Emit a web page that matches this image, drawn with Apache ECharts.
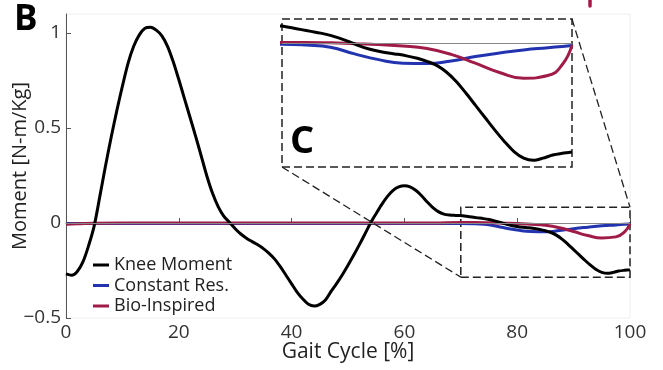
<!DOCTYPE html>
<html>
<head>
<meta charset="utf-8">
<script src="https://cdn.jsdelivr.net/npm/echarts@6/dist/echarts.min.js"></script>
<style>html,body{margin:0;padding:0;background:#fff}#c{width:663px;height:370px}</style>
</head>
<body>
<div id="c"></div>
<script>
// Gait cycle positions [%] for the knee moment (every 1 %)
const gaitKnee = Array.from({length:101}, (_, i) => i);
// Knee Moment [N-m/Kg], read at 0,1,...,100 %
const kneeMoment = [
  -0.268,-0.275,-0.255,-0.205,-0.12,-0.015,0.14,0.30,0.45,0.59,
  0.72,0.84,0.93,0.99,1.025,1.03,1.015,0.985,0.93,0.85,
  0.755,0.655,0.555,0.455,0.35,0.245,0.155,0.085,0.035,0.003,
  -0.03,-0.058,-0.08,-0.098,-0.115,-0.135,-0.16,-0.19,-0.23,-0.275,
  -0.32,-0.365,-0.40,-0.428,-0.437,-0.428,-0.405,-0.36,-0.318,-0.272,
  -0.222,-0.17,-0.115,-0.058,0.0,0.05,0.098,0.14,0.172,0.19,
  0.196,0.19,0.172,0.145,0.112,0.082,0.06,0.047,0.042,0.04,
  0.039,0.035,0.031,0.027,0.023,0.018,0.011,0.003,-0.006,-0.013,
  -0.018,-0.022,-0.025,-0.029,-0.034,-0.041,-0.05,-0.065,-0.086,-0.112,
  -0.14,-0.168,-0.196,-0.222,-0.245,-0.26,-0.265,-0.26,-0.253,-0.249,
  -0.246];
// Gait cycle positions [%] for the two device curves
const gaitDevice = [0,2,5,10,20,30,40,50,60,65,70,72.5,75,77.5,80,82.5,85,87.5,90,92.5,95,97.5,99,100];
// Constant Res.
const constantRes = [-0.002,-0.002,-0.002,-0.002,-0.002,-0.002,-0.002,-0.002,-0.002,-0.002,-0.002,-0.004,-0.009,-0.024,-0.037,-0.045,-0.046,-0.040,-0.030,-0.022,-0.015,-0.010,-0.007,-0.005];
// Bio-Inspired
const bioInspired = [-0.006,-0.004,-0.001,0,0,0,0,0,0,0,0.002,0.002,0.001,-0.001,-0.003,-0.006,-0.012,-0.025,-0.045,-0.066,-0.079,-0.073,-0.048,-0.004];
// Axis ticks
const xTicks = [0,20,40,60,80,100];
const yTicks = [-0.5,0,0.5,1];
// Zoom region (main chart) and inset ranges
const zoomBoxX = [70,100];
const zoomBoxY = [-0.285,0.083];
const insetY = [-0.28,0.055];

const FONT = '"Open Sans", sans-serif';
const C_KNEE = '#000000', C_CONST = '#2233b0', C_BIO = '#a01c48';
const pairs = (xs, arr) => xs.map((g,i)=>[g,arr[i]]);

const chart = echarts.init(document.getElementById('c'));
function mkSeries(name, xs, arr, color, idx, width, smooth, extra){
  return Object.assign({
    name, type:'line', xAxisIndex:idx, yAxisIndex:idx, data:pairs(xs, arr),
    smooth, showSymbol:false, symbol:'none', clip:true,
    lineStyle:{color, width, join:'round'}, itemStyle:{color}, emphasis:{disabled:true}, silent:true
  }, extra||{});
}
const zeroLine = {silent:true, symbol:'none', label:{show:false},
  lineStyle:{color:'#888', width:1, type:'solid'}, data:[{yAxis:0}]};
const boxStyle = {color:'rgba(0,0,0,0)', borderColor:'#222', borderWidth:1.5, borderType:[8,4]};
const option = {
  animation:false,
  grid:[
    {left:66, right:33, top:14, bottom:52, show:true, borderColor:'#eeeeee', borderWidth:1, outerBoundsMode:'none', containLabel:false},
    {left:282, top:19, width:290, height:148, outerBoundsMode:'none', containLabel:false}
  ],
  xAxis:[
    {type:'value', min:0, max:100, interval:20, gridIndex:0,
     name:'Gait Cycle [%]', nameLocation:'middle', nameGap:24, nameMoveOverlap:false,
     nameTextStyle:{fontFamily:FONT, fontSize:21, color:'#222'},
     axisLine:{lineStyle:{color:'#555', width:1}},
     axisTick:{inside:true, length:5, lineStyle:{color:'#555'}},
     axisLabel:{fontFamily:FONT, fontSize:19, color:'#333', margin:5,
       formatter:v=>xTicks.includes(v)?String(v):''},
     splitLine:{show:false}},
    {type:'value', min:zoomBoxX[0], max:zoomBoxX[1], gridIndex:1, show:false}
  ],
  yAxis:[
    {type:'value', min:-0.5, max:1.1, interval:0.5, gridIndex:0,
     name:'Moment [N-m/Kg]', nameLocation:'middle', nameGap:36, nameMoveOverlap:false,
     nameTextStyle:{fontFamily:FONT, fontSize:20, color:'#222'},
     axisLine:{show:true, lineStyle:{color:'#555', width:1}},
     axisTick:{inside:true, length:5, lineStyle:{color:'#555'}},
     axisLabel:{fontFamily:FONT, fontSize:19, color:'#333', margin:5, align:'right', showMaxLabel:false,
       formatter:v=>yTicks.includes(v)?'{r|'+String(v).replace('-','\u2212')+'}':'',
       rich:{r:{width:44, align:'right', fontFamily:FONT, fontSize:19, color:'#333'}}},
     splitLine:{show:false}},
    {type:'value', min:insetY[0], max:insetY[1], gridIndex:1, show:false}
  ],
  legend:{
    orient:'vertical', left:88, top:251, icon:'rect', itemWidth:16, itemHeight:3, itemGap:2.5,
    data:['Knee Moment','Constant Res.','Bio-Inspired'],
    textStyle:{fontFamily:FONT, fontSize:18, color:'#222', lineHeight:18}
  },
  series:[
    mkSeries('Constant Res.', gaitDevice, constantRes, C_CONST, 0, 3, 0.5, {markLine:zeroLine}),
    mkSeries('Bio-Inspired', gaitDevice, bioInspired, C_BIO, 0, 3, 0.5),
    mkSeries('Knee Moment', gaitKnee, kneeMoment, C_KNEE, 0, 3, 0.3, {
      markArea:{silent:true, itemStyle:boxStyle,
        data:[[{xAxis:zoomBoxX[0], yAxis:zoomBoxY[0]},{xAxis:zoomBoxX[1], yAxis:zoomBoxY[1]}]]}
    }),
    mkSeries('Constant Res.', gaitDevice, constantRes, C_CONST, 1, 3, 0.5, {markLine:zeroLine}),
    mkSeries('Bio-Inspired', gaitDevice, bioInspired, C_BIO, 1, 3, 0.5),
    mkSeries('Knee Moment', gaitKnee, kneeMoment, C_KNEE, 1, 3, 0.3, {
      markArea:{silent:true, itemStyle:boxStyle,
        data:[[{xAxis:zoomBoxX[0], yAxis:insetY[0]},{xAxis:zoomBoxX[1], yAxis:insetY[1]}]]}
    })
  ]
};
chart.setOption(option);

const mTR = chart.convertToPixel({gridIndex:0},[zoomBoxX[1], zoomBoxY[1]]);
const mBL = chart.convertToPixel({gridIndex:0},[zoomBoxX[0], zoomBoxY[0]]);
const iTR = chart.convertToPixel({gridIndex:1},[zoomBoxX[1], insetY[1]]);
const iBL = chart.convertToPixel({gridIndex:1},[zoomBoxX[0], insetY[0]]);
const dashStyle = {stroke:'#222', lineWidth:1.3, lineDash:[8,4]};
chart.setOption({graphic:{elements:[
  {type:'line', shape:{x1:iTR[0], y1:iTR[1], x2:mTR[0], y2:mTR[1]}, style:dashStyle, z:50, silent:true},
  {type:'line', shape:{x1:iBL[0], y1:iBL[1], x2:mBL[0], y2:mBL[1]}, style:dashStyle, z:50, silent:true},
  {type:'text', left:14, top:3, style:{text:'B', fontFamily:FONT, fontWeight:'bold', fontSize:35, fill:'#000'}, z:60},
  {type:'text', left:290, top:123, style:{text:'C', fontFamily:FONT, fontWeight:'bold', fontSize:38, fill:'#000'}, z:60},
  {type:'line', shape:{x1:590, y1:-2, x2:590, y2:6}, style:{stroke:C_BIO, lineWidth:3.5, lineCap:'round'}, z:60, silent:true}
]}});
</script>
</body>
</html>
